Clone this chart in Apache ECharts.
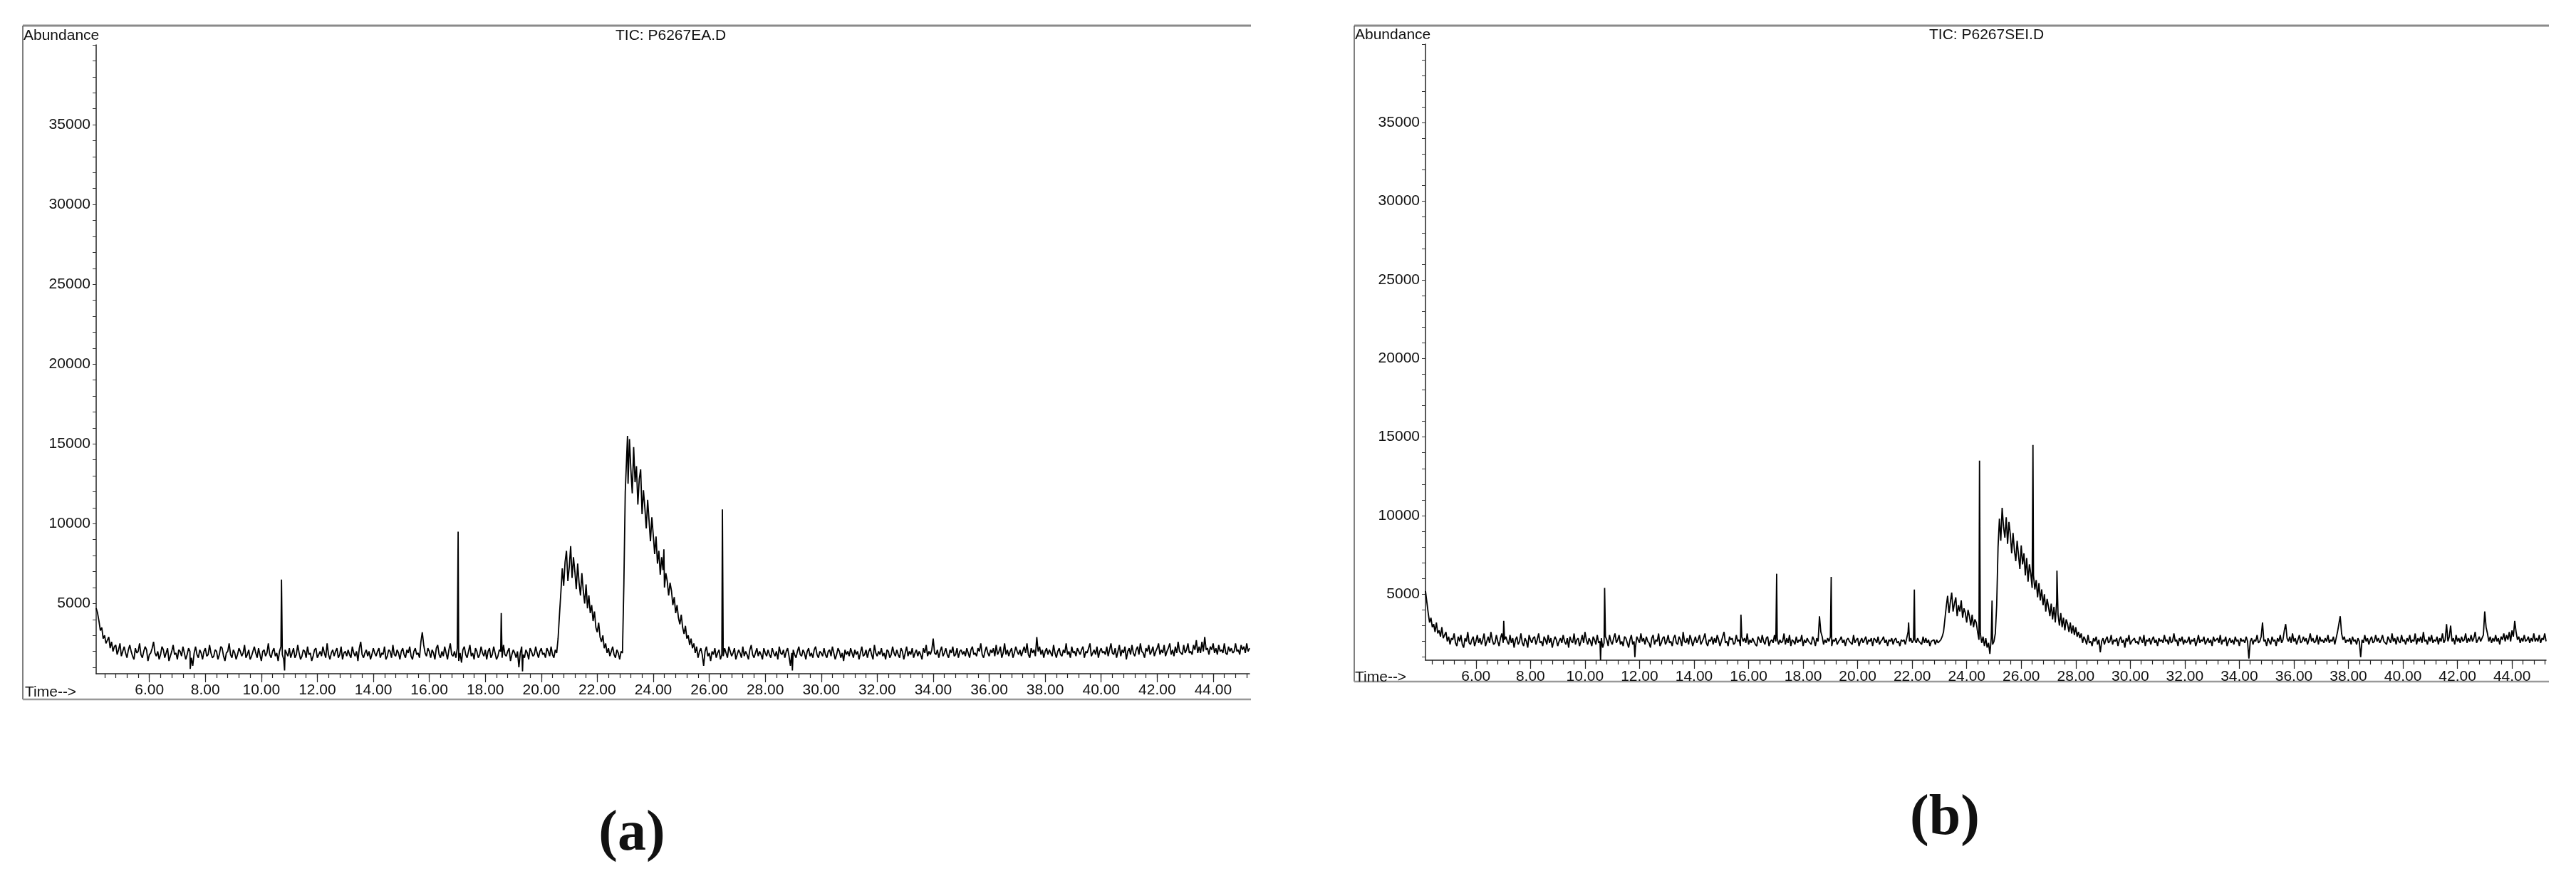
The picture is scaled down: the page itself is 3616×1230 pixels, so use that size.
<!DOCTYPE html>
<html>
<head>
<meta charset="utf-8">
<title>TIC P6267EA.D / P6267SEI.D</title>
<script src="https://cdn.jsdelivr.net/npm/echarts@6/dist/echarts.min.js"></script>
<style>
html, body { margin: 0; padding: 0; background: #fff; }
#chart { width: 3616px; height: 1230px; }
</style>
</head>
<body>
<div id="chart"></div>
<script>
// both traces every 0.05 min, narrow spikes listed apart
var timeStep = 0.05;
var startA = 4.10, endA = 45.30, yMinA = 600;
var startB = 4.15, endB = 45.25, yMinB = 800;
var yMax = 40000;

var yLabels = [5000, 10000, 15000, 20000, 25000, 30000, 35000];
var xLabels = [6, 8, 10, 12, 14, 16, 18, 20, 22, 24, 26, 28, 30, 32, 34, 36, 38, 40, 42, 44];

// (a) TIC: P6267EA.D, one row = one minute starting at 4.10
var abundA = [
  4700, 4400, 3900, 3300, 3500, 2800, 3000, 2500, 2700, 2900, 2200, 2600, 2000, 2300, 2400, 1800, 2100, 2500, 1700, 2000,
  2300, 1900, 1600, 2100, 2400, 2000, 1700, 1500, 2200, 1900, 2000, 2500, 1800, 1600, 2000, 2300, 2100, 1400, 1800, 1900,
  2200, 2600, 1900, 1700, 2000, 1500, 1800, 2300, 2100, 1600, 1900, 2200, 1400, 1700, 2000, 2400, 1800, 1900, 1500, 2100,
  2000, 1700, 2300, 1900, 1500, 1800, 2200, 2000, 1600, 1100, 1900, 2300, 1800, 1600, 2100, 1900, 1500, 2000, 2200, 1700,
  1800, 2400, 1900, 1600, 1700, 2100, 2000, 1500, 1800, 2300, 2200, 1700, 1400, 1900, 2000, 2500, 1800, 1600, 2100, 1900,
  1500, 1800, 2200, 2000, 1700, 1900, 2400, 1600, 1800, 2100, 1500, 1700, 2000, 2300, 1900, 1600, 2200, 1800, 1400, 2000,
  2100, 1700, 1900, 2500, 1800, 1600, 2000, 2200, 1700, 1900, 1400, 2000, 2300, 1800, 1500, 2100, 1900, 1700, 2200, 1600,
  1900, 2200, 1600, 1800, 2400, 1900, 1500, 1700, 2100, 2000, 1600, 2300, 1800, 1900, 1400, 1700, 2100, 2200, 1600, 1800,
  2000, 1700, 2300, 1900, 1600, 2500, 1800, 1500, 1900, 2100, 1700, 2000, 2200, 1600, 1800, 2300, 1500, 1900, 2000, 1700,
  2100, 1800, 1600, 2300, 1900, 1700, 2000, 1400, 2200, 2600, 1800, 1600, 1900, 2100, 1700, 2000, 1500, 1800, 2200, 1900,
  1700, 2000, 2200, 1600, 1900, 1800, 2300, 1500, 1700, 2100, 2000, 1600, 2400, 1800, 1700, 2100, 1900, 1500, 2000, 2200,
  1800, 1600, 2100, 1900, 2300, 1700, 1500, 2000, 2200, 1800, 1900, 1600, 2600, 3200, 2400, 1900, 1700, 2200, 2000, 1600,
  2100, 1900, 1500, 2200, 2400, 1800, 1600, 2000, 1700, 2300, 1900, 1500, 2100, 2500, 1800, 1700, 2000, 1600, 2200, 1400,
  1900, 1300, 2100, 2300, 1800, 1600, 2000, 2400, 1700, 1900, 1500, 2200, 2000, 1600, 1800, 2300, 1900, 1700, 2100, 1500,
  2000, 2200, 1600, 1800, 2300, 1900, 1500, 1700, 2100, 2000, 1600, 2400, 1800, 1700, 2000, 2200, 1400, 1800, 2100, 1900,
  1600, 2000, 1000, 1900, 2300, 1800, 1600, 2100, 1900, 1500, 2200, 2000, 1700, 1800, 2300, 1900, 1600, 2000, 2200, 1800,
  1900, 1600, 2200, 2000, 1700, 2300, 1800, 1600, 2100, 1900, 2800, 4300, 5700, 7200, 6100, 7600, 8300, 6400, 7300, 8600,
  6600, 7900, 7000, 5900, 7500, 6300, 5500, 6900, 5800, 5000, 6200, 4700, 5500, 4400, 4900, 3900, 4500, 3500, 3200, 3800,
  2900, 2600, 3000, 2200, 2500, 1900, 2200, 1700, 2000, 2300, 1800, 1600, 2100, 1900, 1500, 2000, 1900, 6200, 12000, 14200,
  12500, 15300, 13400, 11900, 14800, 12600, 13600, 11200, 12800, 13400, 10600, 12100, 11000, 9700, 11500, 10200, 8900, 10400, 9300, 8100,
  9200, 7500, 8300, 6800, 7900, 7100, 6000, 6900, 6400, 5500, 6300, 5800, 4900, 5400, 4400, 4900, 4100, 3700, 4300, 3500,
  3100, 3600, 2800, 3000, 2400, 2800, 2200, 2500, 1900, 2300, 1600, 2000, 2200, 1800, 1100, 2000, 2300, 1700, 1900, 1400,
  2000, 1800, 2200, 1600, 1900, 2100, 1500, 1800, 1700, 2200, 1900, 1600, 2300, 2000, 1700, 1900, 2200, 1500, 1800, 2100,
  1900, 1600, 2300, 1700, 2000, 1800, 1500, 2100, 2400, 1800, 1600, 1900, 2200, 1700, 2000, 1800, 1500, 2200, 1900, 1700,
  2100, 1800, 1600, 2200, 1900, 1700, 2000, 1500, 2300, 1900, 1800, 2100, 1600, 2000, 2200, 1700, 1100, 1900, 2100, 1800,
  1600, 2000, 2300, 1800, 1700, 2100, 1900, 1500, 2000, 2200, 1700, 1900, 1600, 2100, 2300, 1800, 1600, 2000, 1900, 1700,
  2200, 1800, 1600, 2000, 2100, 1700, 2300, 1900, 1500, 1800, 2200, 2000, 1600, 1900, 1400, 2100, 1800, 2000, 1700, 2200,
  1900, 1600, 2100, 1800, 2000, 1500, 1900, 2300, 1700, 1800, 2100, 1600, 2000, 2200, 1800, 1500, 2400, 1900, 1700, 2000,
  1800, 2200, 1700, 1900, 1500, 2100, 2000, 1600, 1800, 2300, 1900, 1700, 2100, 1800, 1600, 2200, 2000, 1500, 1900, 2300,
  1700, 2000, 1800, 2200, 1600, 1900, 2100, 1700, 2000, 1800, 1500, 2200, 1900, 2400, 1700, 2000, 1800, 2100, 2800, 1900,
  1800, 2100, 1600, 2000, 2300, 1700, 1900, 2200, 1800, 1600, 2100, 1900, 2300, 1700, 1800, 2200, 1600, 2000, 2100, 1800,
  2000, 1700, 2200, 1900, 1600, 2100, 2300, 1800, 1900, 1700, 2200, 2000, 2500, 1800, 1600, 2000, 2300, 1900, 1700, 2100,
  1900, 2200, 1700, 2400, 1800, 2000, 2300, 1600, 1900, 2500, 1800, 2100, 1700, 2000, 2200, 1600, 1900, 2300, 2000, 1800,
  2100, 1700, 2000, 2300, 1900, 2500, 1800, 1600, 2200, 1900, 2100, 1700, 2900, 2000, 2300, 1800, 2100, 1600, 2000, 2200,
  1800, 2100, 1900, 1700, 2400, 1900, 1600, 2000, 2200, 1800, 1700, 2100, 1900, 2500, 1800, 2000, 1600, 2300, 1900, 2000,
  1700, 2200, 2000, 1800, 2100, 2300, 1600, 2000, 1900, 2200, 2500, 1700, 1900, 2100, 1800, 2300, 1600, 2000, 2200, 1900,
  2000, 1800, 2300, 1700, 2100, 2500, 1900, 1800, 2200, 1600, 2000, 2400, 1700, 2100, 1900, 2300, 1500, 2000, 2200, 1800,
  2400, 1900, 1700, 2100, 2300, 1800, 2500, 2000, 1900, 1600, 2200, 2000, 2400, 1800, 2000, 2300, 1700, 2000, 2200, 2500,
  1800, 2100, 1900, 2400, 1700, 2000, 2200, 2500, 1800, 2100, 1700, 2300, 1900, 2600, 2000, 2000, 1800, 2400, 1900, 2100,
  2500, 1900, 2000, 1800, 2400, 2100, 2700, 1900, 2300, 1900, 2600, 2000, 2900, 2100, 2200, 1800, 2300, 2100, 2500, 1900,
  2200, 1800, 2400, 2000, 2100, 1900, 2500, 1900, 1800, 2300, 2000, 2200, 1900, 2000, 2500, 2000, 2100, 1800, 2400, 2100,
  2300, 1900, 2500, 2000, 2200
];
var spikesA = [
  [7.46, 900], [10.72, 6500], [10.83, 800], [17.03, 9500], [18.57, 4400], [19.33, 750],
  [23.08, 15500], [24.38, 8400], [26.47, 10900], [28.97, 800], [34.03, 2800]
];

// (b) TIC: P6267SEI.D, one row = one minute starting at 4.15
var abundB = [
  5200, 4500, 3800, 3200, 3500, 2900, 3100, 2600, 3200, 2500, 2700, 2300, 2900, 2200, 2400, 2600, 2000, 2300, 1800, 2200,
  2100, 2500, 1900, 1700, 2300, 2000, 2400, 1800, 1600, 2200, 2000, 2600, 1900, 1800, 2100, 2300, 1700, 2000, 2400, 1900,
  2200, 1800, 2100, 2500, 1700, 2000, 2300, 1900, 2600, 2100, 1800, 1900, 2400, 2000, 1700, 2200, 2500, 1900, 2100, 2300,
  2000, 1800, 2400, 1900, 2200, 1600, 2100, 2300, 1800, 2000, 2500, 1900, 1700, 2200, 2000, 1600, 2400, 2100, 1900, 2200,
  2300, 1800, 2100, 2500, 1900, 2000, 1700, 2300, 2100, 1800, 2400, 1900, 2200, 1600, 2000, 2300, 2100, 1700, 2000, 2200,
  1900, 2400, 2000, 1800, 2200, 1600, 2300, 2000, 1900, 2500, 1800, 2100, 2200, 1700, 2000, 2400, 1900, 2600, 2100, 1800,
  2200, 2000, 1700, 2300, 2100, 1800, 2400, 1900, 2000, 2200, 1600, 1900, 2300, 2100, 1700, 2400, 2000, 1800, 2200, 2500,
  1900, 2100, 2400, 1800, 2000, 1700, 2300, 2200, 1900, 1600, 2100, 2400, 1800, 2000, 1600, 2300, 2100, 1900, 2500, 2000,
  2200, 1800, 2300, 2000, 1900, 1600, 2200, 2400, 1800, 2100, 2000, 2500, 1700, 1900, 2200, 2300, 1800, 2000, 2400, 1900,
  2000, 1700, 2200, 2400, 1900, 1800, 2300, 2100, 1700, 2600, 2000, 1900, 2200, 1800, 2400, 2100, 1700, 2000, 2300, 1900,
  2100, 2400, 1800, 2000, 2200, 2500, 1900, 1700, 2100, 2000, 2300, 1800, 2200, 1900, 2400, 2100, 1700, 2000, 2300, 2600,
  1900, 2000, 1700, 2300, 2100, 2200, 1800, 1900, 2400, 2000, 2100, 1700, 2300, 2000, 2200, 1900, 2500, 1800, 2100, 1900,
  2200, 2000, 1800, 1700, 2300, 2100, 1900, 2400, 2000, 1800, 2200, 2300, 1700, 2000, 2100, 1900, 2400, 2000, 2200, 1800,
  2100, 1900, 2000, 2500, 1800, 2200, 1900, 2400, 1700, 2100, 2000, 1800, 2300, 1900, 2100, 2000, 2400, 1700, 2100, 1900,
  2200, 2000, 1900, 1800, 2300, 2100, 1700, 2200, 2000, 2000, 2600, 2300, 1800, 2100, 1900, 2200, 2000, 2300, 1700, 2100,
  2000, 2200, 1800, 2000, 2100, 2300, 1900, 2100, 1700, 2100, 2200, 2000, 1900, 1800, 2400, 1900, 2100, 2200, 1700, 2000,
  2200, 1900, 2100, 2300, 1800, 2100, 2000, 2200, 1700, 2200, 2100, 1900, 2300, 1800, 2000, 2100, 2300, 1900, 2100, 1700,
  2100, 2000, 2200, 1800, 2100, 2200, 1900, 2000, 1700, 2100, 2000, 2100, 1800, 2200, 2600, 2000, 2200, 1900, 2100, 2100,
  1900, 2200, 2000, 2000, 1800, 2300, 1900, 2200, 1900, 2100, 1700, 2000, 2000, 2100, 1800, 2100, 1900, 2000, 2100, 2300,
  2600, 3400, 4200, 4900, 3800, 4500, 5100, 3900, 4400, 4800, 3600, 4300, 3900, 4600, 3500, 4100, 3800, 3200, 4000, 3600,
  3000, 3700, 2900, 3400, 3200, 2600, 2100, 2500, 1900, 2300, 1700, 2200, 1600, 1900, 1200, 2200, 1800, 2000, 2500, 4300,
  8000, 9800, 8400, 10500, 9300, 8600, 9900, 8200, 9600, 8800, 7600, 8900, 7800, 7100, 8400, 7500, 6600, 8100, 6900, 7600,
  6200, 7300, 5800, 6900, 6300, 5400, 6200, 5300, 5900, 4800, 5700, 4600, 5300, 4300, 5000, 3900, 4700, 4200, 3600, 4400,
  3400, 4200, 3200, 4500, 3700, 3000, 3800, 2900, 3500, 2700, 3400, 3100, 2600, 3200, 2500, 3000, 2400, 2900, 2300, 2600,
  2200, 2500, 1900, 2300, 2100, 1800, 2400, 1900, 2000, 1700, 2200, 2000, 2300, 1800, 2100, 1300, 2000, 2200, 1800, 2100,
  2300, 1900, 2000, 2400, 1800, 2100, 2000, 2200, 1700, 2100, 2300, 1900, 2100, 1600, 2200, 2000, 2400, 1800, 2000, 2100,
  2200, 1900, 2000, 1800, 2300, 2100, 1900, 2400, 1700, 2100, 2000, 2200, 1800, 2100, 2300, 1900, 2100, 1700, 2200, 2000,
  2100, 1900, 2400, 2000, 2100, 1800, 2300, 1900, 2000, 2500, 2000, 2100, 1700, 2200, 2000, 2300, 1800, 2100, 1900, 2000,
  2300, 1800, 2100, 2000, 2200, 1700, 2000, 2400, 1900, 2100, 2000, 2300, 1800, 2000, 2200, 1900, 2100, 1700, 2300, 2000,
  2100, 2200, 1900, 2400, 1800, 2100, 2000, 2300, 1700, 2000, 2200, 1900, 2100, 1800, 2300, 2000, 2100, 1700, 2200, 2000,
  2100, 1900, 2300, 2000, 900, 2000, 2200, 1800, 2100, 2000, 2400, 1900, 2000, 2300, 3200, 2000, 2100, 1700, 2200, 2000,
  1800, 2300, 2000, 2100, 1700, 2200, 2000, 2400, 1900, 2100, 2700, 3100, 2200, 2000, 2300, 1900, 2500, 2000, 2200, 1800,
  2100, 2400, 1900, 2000, 2300, 2000, 2200, 1800, 2100, 2500, 2000, 2200, 1900, 2000, 2400, 1800, 2300, 2000, 2100, 1900,
  2200, 2000, 2400, 1900, 2100, 2000, 2300, 1800, 2200, 2600, 3100, 3600, 2500, 2100, 2300, 1900, 2100, 2000, 2200, 1800,
  2300, 2000, 2100, 1800, 2200, 2000, 1000, 2100, 1900, 2400, 2000, 2200, 1800, 2100, 2300, 1900, 2000, 2400, 2000, 2200,
  1900, 2100, 2400, 2000, 2000, 1800, 2300, 2100, 1900, 2500, 2000, 2200, 1800, 2300, 2000, 1900, 2400, 2000, 2100, 1800,
  2200, 2000, 2400, 1900, 2100, 2000, 2500, 1800, 2200, 2000, 2300, 1900, 2600, 2000, 2100, 1800, 2300, 2000, 2400, 1900,
  2100, 2000, 2300, 1800, 2200, 2000, 2500, 1900, 2100, 3100, 2000, 2300, 3000, 2000, 2200, 1800, 2400, 2000, 2200, 1900,
  2300, 2000, 2100, 2500, 1900, 2200, 2000, 2400, 2000, 2200, 2600, 1900, 2100, 2300, 2000, 2200, 2400, 3900, 2900, 2500,
  2000, 2300, 1900, 2200, 2000, 2400, 2000, 2200, 1800, 2300, 2100, 2500, 2000, 2400, 2100, 2600, 2000, 2700, 2300, 3300,
  2600, 2100, 2300, 1900, 2200, 2000, 2400, 2000, 2100, 2300, 1900, 2200, 2000, 2500, 2000, 2200, 2000, 2400, 1900, 2200,
  2100, 2500, 2000
];
var spikesB = [
  [7.02, 3300], [10.57, 800], [10.72, 5400], [11.83, 1000], [15.72, 3700], [17.03, 6300],
  [18.60, 3600], [19.03, 6100], [21.87, 3200], [22.08, 5300], [24.47, 13500], [24.93, 4600],
  [26.43, 14500], [27.31, 6500]
];

var fontSans = "'Liberation Sans', Arial, sans-serif";
var ink = '#111';

function buildTrace(start, values, spikes) {
  var pts = values.map(function (v, i) {
    return [+(start + i * timeStep).toFixed(2), v];
  });
  pts = pts.concat(spikes);
  pts.sort(function (p, q) { return p[0] - q[0]; });
  return pts;
}

// small ticks every 0.4 min on the time axis, every 1000 on abundance
function minorTimeTicks(min, max) {
  var out = [];
  for (var k = Math.ceil(min / 0.4); k * 0.4 <= max; k++) out.push(+(k * 0.4).toFixed(2));
  return out;
}
var yTicks = [];
for (var k = 1; k <= 40; k++) yTicks.push(k * 1000);

function timeAxes(g, min, max) {
  return [{
    type: 'value', gridIndex: g, min: min, max: max, position: 'bottom',
    axisLine: { show: true, lineStyle: { color: '#222', width: 1.5 } },
    axisTick: { show: true, customValues: minorTimeTicks(min, max), length: 6, lineStyle: { color: '#222', width: 1.2 } },
    axisLabel: { show: false },
    splitLine: { show: false }
  }, {
    type: 'value', gridIndex: g, min: min, max: max, position: 'bottom',
    axisLine: { show: false },
    axisTick: { show: true, customValues: xLabels, length: 12, lineStyle: { color: '#222', width: 1.2 } },
    axisLabel: {
      show: true, customValues: xLabels, margin: 13,
      formatter: function (v) { return v.toFixed(2); },
      fontSize: 21, fontFamily: fontSans, color: ink
    },
    splitLine: { show: false }
  }];
}

function abundanceAxis(g, min) {
  return {
    type: 'value', gridIndex: g, min: min, max: yMax, position: 'left',
    axisLine: { show: true, lineStyle: { color: '#222', width: 1.5 } },
    axisTick: { show: true, customValues: yTicks, length: 5, lineStyle: { color: '#333', width: 1 } },
    axisLabel: {
      customValues: yLabels, margin: 8, fontSize: 21, fontFamily: fontSans, color: ink,
      formatter: function (v) { return String(v); }
    },
    splitLine: { show: false }
  };
}

function frame(x1, y1, x2, y2) {
  return [
    { type: 'line', shape: { x1: x1, y1: y1, x2: x2, y2: y1 }, style: { stroke: '#8a8a8a', lineWidth: 3 } },
    { type: 'line', shape: { x1: x1, y1: y1, x2: x1, y2: y2 }, style: { stroke: '#555', lineWidth: 1.5 } },
    { type: 'line', shape: { x1: x1, y1: y2, x2: x2, y2: y2 }, style: { stroke: '#999', lineWidth: 2.5 } }
  ];
}

function label(x, y, text, extra) {
  var st = { text: text, x: x, y: y, fill: ink, font: '21px ' + fontSans, textAlign: 'left', textVerticalAlign: 'middle' };
  for (var key in extra) st[key] = extra[key];
  return { type: 'text', style: st };
}

var chart = echarts.init(document.getElementById('chart'));
chart.setOption({
  animation: false,
  backgroundColor: '#fff',
  grid: [
    { left: 135, top: 63, width: 1619, height: 883 },
    { left: 2001, top: 62, width: 1573, height: 865 }
  ],
  xAxis: timeAxes(0, startA, endA).concat(timeAxes(1, startB, endB)),
  yAxis: [abundanceAxis(0, yMinA), abundanceAxis(1, yMinB)],
  series: [{
    name: 'P6267EA.D', type: 'line', xAxisIndex: 0, yAxisIndex: 0,
    data: buildTrace(startA, abundA, spikesA),
    showSymbol: false, sampling: null,
    lineStyle: { color: '#000', width: 1.8, join: 'bevel' }
  }, {
    name: 'P6267SEI.D', type: 'line', xAxisIndex: 2, yAxisIndex: 1,
    data: buildTrace(startB, abundB, spikesB),
    showSymbol: false, sampling: null,
    lineStyle: { color: '#000', width: 1.8, join: 'bevel' }
  }],
  graphic: frame(32, 36, 1756, 982).concat(frame(1901, 36, 3578, 957)).concat([
    label(33, 50, 'Abundance'),
    label(864, 50, 'TIC: P6267EA.D'),
    label(35, 972, 'Time-->'),
    label(1902, 49, 'Abundance'),
    label(2708, 49, 'TIC: P6267SEI.D'),
    label(1902, 951, 'Time-->'),
    label(887, 1172, '(a)', { font: 'bold 80px "Liberation Serif", "Times New Roman", serif', textAlign: 'center' }),
    label(2730, 1150, '(b)', { font: 'bold 80px "Liberation Serif", "Times New Roman", serif', textAlign: 'center' })
  ])
});
</script>
</body>
</html>
